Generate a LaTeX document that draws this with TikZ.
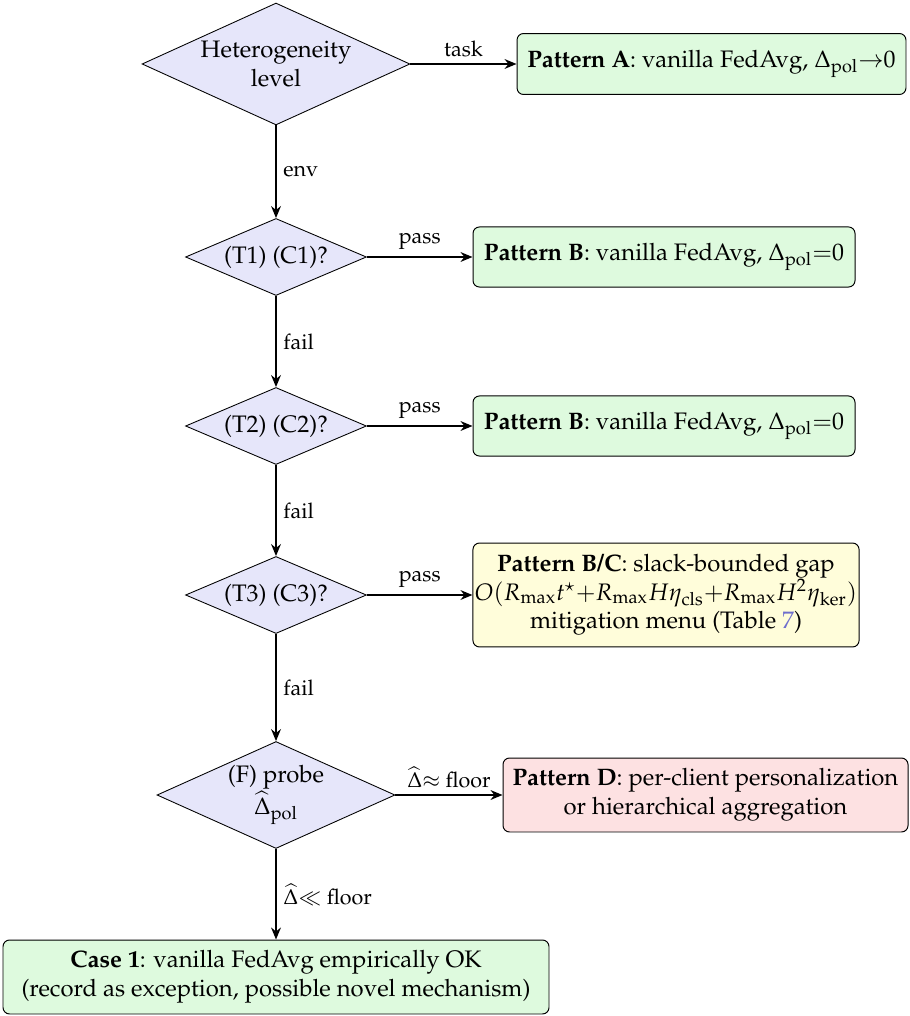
\documentclass[tikz,border=0pt]{standalone}
\usepackage[T1]{fontenc}
\usepackage{mathpazo}
\usepackage{amsmath}
\usetikzlibrary{shapes.geometric,arrows.meta}
\definecolor{refblue}{RGB}{110,110,205}
\definecolor{decfill}{RGB}{230,230,250}
\definecolor{gfill}{RGB}{222,250,222}
\definecolor{yfill}{RGB}{255,253,218}
\definecolor{rfill}{RGB}{253,225,226}
\newcommand{\nodefont}{\fontsize{11}{13.2}\selectfont}
\newcommand{\labfont}{\fontsize{9.9}{11.9}\selectfont}
\tikzset{
  dec/.style={diamond, draw, fill=decfill, inner sep=0pt, aspect=2.3, align=center, line width=0.4pt, font=\nodefont},
  res/.style={rectangle, rounded corners=3pt, draw, align=center, inner sep=0pt, line width=0.45pt, font=\nodefont},
  gbox/.style={res, fill=gfill},
  ybox/.style={res, fill=yfill},
  rbox/.style={res, fill=rfill},
  arr/.style={-{Stealth[length=5.5pt,width=4.5pt]}, line width=0.85pt},
  lab/.style={font=\labfont, inner sep=3pt},
}
\begin{document}
\begin{tikzpicture}[x=0.461pt,y=-0.461pt]
\useasboundingbox (0,0) rectangle (909,1016);
% decisions
\node[dec, minimum width=123.5pt, minimum height=56.2pt] (het) at (276,64) {Heterogeneity\\level};
\node[dec, minimum width=83.4pt, minimum height=35.5pt] (t1) at (276,257) {(T1) (C1)?};
\node[dec, minimum width=83.4pt, minimum height=35.5pt] (t2) at (276,426) {(T2) (C2)?};
\node[dec, minimum width=83.4pt, minimum height=35.5pt] (t3) at (276,595) {(T3) (C3)?};
\node[dec, minimum width=109.7pt, minimum height=49.3pt] (f) at (276,795) {(F) probe\\$\widehat{\Delta}_{\mathrm{pol}}$};
% results
\node[gbox, minimum width=179.3pt, minimum height=28.1pt] (pa) at (711.5,64) {\textbf{Pattern A}: vanilla FedAvg, $\Delta_{\mathrm{pol}}{\to}0$};
\node[gbox, minimum width=176.1pt, minimum height=27.7pt] (pb1) at (664,257) {\textbf{Pattern B}: vanilla FedAvg, $\Delta_{\mathrm{pol}}{=}0$};
\node[gbox, minimum width=176.1pt, minimum height=27.7pt] (pb2) at (664,426) {\textbf{Pattern B}: vanilla FedAvg, $\Delta_{\mathrm{pol}}{=}0$};
\node[ybox, minimum width=178pt, minimum height=47.9pt] (pbc) at (666,595) {\textbf{Pattern B/C}: slack-bounded gap\\$O(R_{\max}t^{\star}{+}R_{\max}H\eta_{\mathrm{cls}}{+}R_{\max}H^{2}\eta_{\mathrm{ker}})$\\mitigation menu (Table \textcolor{refblue}{7})};
\node[rbox, minimum width=186.7pt, minimum height=34.1pt] (pd) at (705.5,795) {\textbf{Pattern D}: per-client personalization\\or hierarchical aggregation};
\node[gbox, minimum width=251.7pt, minimum height=34.1pt] (c1) at (276,977) {\textbf{Case 1}: vanilla FedAvg empirically OK\\(record as exception, possible novel mechanism)};
% connectors
\draw[arr] (het) -- node[lab, above] {task} (pa);
\draw[arr] (het) -- node[lab, right] {env} (t1);
\draw[arr] (t1) -- node[lab, above] {pass} (pb1);
\draw[arr] (t1) -- node[lab, right] {fail} (t2);
\draw[arr] (t2) -- node[lab, above] {pass} (pb2);
\draw[arr] (t2) -- node[lab, right] {fail} (t3);
\draw[arr] (t3) -- node[lab, above] {pass} (pbc);
\draw[arr] (t3) -- node[lab, right] {fail} (f);
\draw[arr] (f) -- node[lab, above] {$\widehat{\Delta}{\approx}$ floor} (pd);
\draw[arr] (f) -- node[lab, right] {$\widehat{\Delta}{\ll}$ floor} (c1);
\end{tikzpicture}
\end{document}
